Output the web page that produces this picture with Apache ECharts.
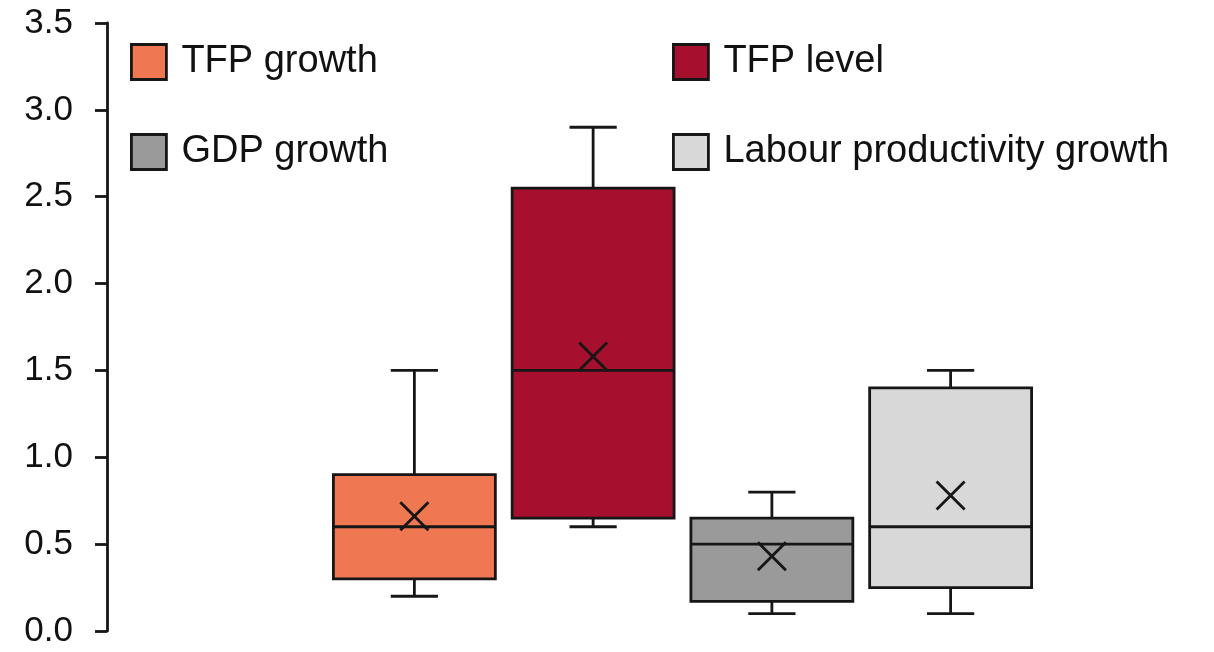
<!DOCTYPE html>
<html>
<head>
<meta charset="utf-8">
<script src="https://cdn.jsdelivr.net/npm/echarts@6/dist/echarts.min.js"></script>
<style>
html,body{margin:0;padding:0;background:#fff;}
#chart{width:1214px;height:652px;}
</style>
</head>
<body>
<div id="chart"></div>
<script>
// ---- data ----
const seriesNames = ['TFP growth', 'TFP level', 'GDP growth', 'Labour productivity growth'];
// [min, Q1, median, Q3, max]
const tfpGrowth = [0.20, 0.30, 0.60, 0.90, 1.50];
const tfpLevel = [0.60, 0.65, 1.50, 2.55, 2.90];
const gdpGrowth = [0.10, 0.17, 0.50, 0.65, 0.80];
const labourGrowth = [0.10, 0.25, 0.60, 1.40, 1.50];
const means = [0.66, 1.58, 0.43, 0.78];
const yTicks = ['0.0', '0.5', '1.0', '1.5', '2.0', '2.5', '3.0', '3.5'];

const boxes = [tfpGrowth, tfpLevel, gdpGrowth, labourGrowth];
const colors = ['#EF7853', '#A6102E', '#9A9A9A', '#D8D8D8'];
const EDGE = '#161616';
const LW = 2.8;

const chart = echarts.init(document.getElementById('chart'), null, {renderer: 'canvas'});

function renderBox(params, api) {
  const x = api.value(0);
  const vals = [api.value(1), api.value(2), api.value(3), api.value(4), api.value(5)];
  const mean = api.value(6);
  const band = api.size([1, 0])[0];
  const half = band * 0.453;
  const cap = band * 0.132;
  const p = vals.map(v => api.coord([x, v]));
  const cx = p[0][0];
  const pm = api.coord([x, mean]);
  const s = 14;
  const fill = api.visual('color');
  const ls = {stroke: EDGE, lineWidth: LW};
  return {
    type: 'group',
    children: [
      {type: 'line', shape: {x1: cx, y1: p[0][1], x2: cx, y2: p[1][1]}, style: ls},
      {type: 'line', shape: {x1: cx, y1: p[3][1], x2: cx, y2: p[4][1]}, style: ls},
      {type: 'line', shape: {x1: cx - cap, y1: p[0][1], x2: cx + cap, y2: p[0][1]}, style: ls},
      {type: 'line', shape: {x1: cx - cap, y1: p[4][1], x2: cx + cap, y2: p[4][1]}, style: ls},
      {type: 'rect', shape: {x: cx - half, y: p[3][1], width: half * 2, height: p[1][1] - p[3][1]},
        style: {fill: fill, stroke: EDGE, lineWidth: LW}},
      {type: 'line', shape: {x1: cx - half, y1: p[2][1], x2: cx + half, y2: p[2][1]}, style: ls},
      {type: 'line', shape: {x1: cx - s, y1: pm[1] - s, x2: cx + s, y2: pm[1] + s}, style: ls},
      {type: 'line', shape: {x1: cx - s, y1: pm[1] + s, x2: cx + s, y2: pm[1] - s}, style: ls}
    ]
  };
}

const series = seriesNames.map((name, i) => ({
  name: name,
  type: 'custom',
  renderItem: renderBox,
  itemStyle: {color: colors[i], borderColor: EDGE, borderWidth: LW},
  encode: {x: 0, y: [1, 2, 3, 4, 5, 6]},
  data: [[i].concat(boxes[i], [means[i]])],
  silent: true
}));

const legendCommon = {
  orient: 'vertical',
  icon: 'rect',
  padding: 0,
  itemWidth: 35,
  itemHeight: 35,
  itemGap: 52,
  selectedMode: false,
  itemStyle: {borderColor: EDGE, borderWidth: 2.8},
  textStyle: {fontFamily: 'Liberation Sans, Arial, sans-serif', fontSize: 38, color: '#111', padding: [0, 0, 0, 10]}
};

chart.setOption({
  animation: false,
  backgroundColor: '#ffffff',
  grid: {left: 325, width: 715, top: 23, bottom: 21, containLabel: false},
  legend: [
    Object.assign({}, legendCommon, {left: 130, top: 43, data: [seriesNames[0], seriesNames[2]]}),
    Object.assign({}, legendCommon, {left: 672, top: 43, data: [seriesNames[1], seriesNames[3]]})
  ],
  xAxis: {
    type: 'category',
    data: seriesNames,
    show: false
  },
  yAxis: {
    type: 'value',
    min: 0,
    max: 3.5,
    interval: 0.5,
    offset: 218,
    axisLine: {show: true, lineStyle: {color: EDGE, width: LW}},
    axisTick: {show: true, length: 12, lineStyle: {color: EDGE, width: LW}},
    splitLine: {show: false},
    axisLabel: {
      fontFamily: 'Liberation Sans, Arial, sans-serif',
      fontSize: 35,
      color: '#111',
      margin: 34,
      formatter: (v) => yTicks[Math.round(v / 0.5)]
    }
  },
  series: series
});
</script>
</body>
</html>
